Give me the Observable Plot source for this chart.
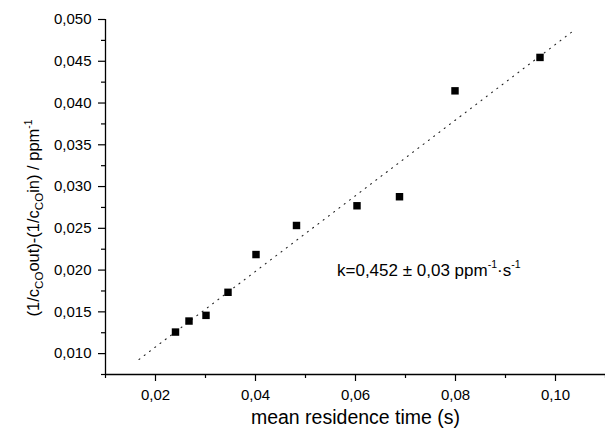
<!DOCTYPE html>
<html>
<head>
<meta charset="utf-8">
<script src="https://cdn.jsdelivr.net/npm/d3@7"></script>
<script src="https://cdn.jsdelivr.net/npm/@observablehq/plot@0.6"></script>
<style>
  html, body { margin: 0; padding: 0; background: #fff; }
  svg { display: block; }
</style>
</head>
<body>
<div id="chart"></div>
<script>
// ---- data ----
const residenceTime = [0.0240, 0.0267, 0.0301, 0.0345, 0.0401, 0.0482, 0.0603, 0.0688, 0.0799, 0.0969];
const inverseDiff   = [0.01258, 0.01390, 0.01458, 0.01734, 0.02186, 0.02534, 0.02770, 0.02878, 0.04146, 0.04546];
const fitX = [0.0167, 0.1037];
const fitY = [0.0093, 0.0487];
const xTicks = [0.02, 0.04, 0.06, 0.08, 0.10];
const xMinor = [0.01, 0.03, 0.05, 0.07, 0.09, 0.11];
const yTicks = [0.010, 0.015, 0.020, 0.025, 0.030, 0.035, 0.040, 0.045, 0.050];
const yMinor = [0.0075, 0.0125, 0.0175, 0.0225, 0.0275, 0.0325, 0.0375, 0.0425, 0.0475];
const xTitle = "mean residence time (s)";
const yTitleParts = [["(1/c"], ["CO", "sub"], ["out)-(1/c"], ["CO", "sub"], ["in) / ppm"], ["-1", "sup"]];
const annotationParts = [["k=0,452 ± 0,03 ppm"], ["-1", "sup"], ["·s"], ["-1", "sup"]];
const annotationPos = {x: 0.0563, y: 0.0200};

const points = residenceTime.map((t, i) => ({t, v: inverseDiff[i]}));
const fit = fitX.map((t, i) => ({t, v: fitY[i]}));
const comma = s => s.replace(".", ",");
const FONT = "'Liberation Sans', Arial, Helvetica, sans-serif";

const chart = Plot.plot({
  width: 605,
  height: 433,
  marginLeft: 105,
  marginRight: 0,
  marginTop: 19,
  marginBottom: 59,
  x: {domain: [0.01, 0.11]},
  y: {domain: [0.0075, 0.050]},
  style: {fontFamily: FONT, fontSize: "15px", color: "#000", background: "#fff"},
  marks: [
    Plot.axisX({ticks: xTicks, tickSize: 7, tickPadding: 8, tickFormat: d => comma(d3.format(".2f")(d)), label: null, strokeWidth: 1.2, fontSize: 15}),
    Plot.axisX({ticks: xMinor, tickSize: 4, text: null, label: null, strokeWidth: 1.2}),
    Plot.axisY({ticks: yTicks, tickSize: 7, tickPadding: 7, tickFormat: d => comma(d3.format(".3f")(d)), label: null, strokeWidth: 1.2, fontSize: 15}),
    Plot.axisY({ticks: yMinor, tickSize: 4, text: null, label: null, strokeWidth: 1.2}),
    Plot.ruleX([0.01], {y1: 0.0075, y2: 0.050, strokeWidth: 1.3}),
    Plot.ruleY([0.0075], {x1: 0.01, x2: 0.11, strokeWidth: 1.3}),
    Plot.line(fit, {x: "t", y: "v", stroke: "#222", strokeWidth: 1.1, strokeDasharray: "1,5.6"}),
    Plot.dot(points, {x: "t", y: "v", symbol: "square", r: 4.2, fill: "#000", stroke: "none"}),
    Plot.text([annotationPos], {x: "x", y: "y", text: () => "k", textAnchor: "start", fontSize: 17, fill: "#000", className: "anno"}),
    Plot.text([xTitle], {frameAnchor: "bottom", dy: 49, text: d => d, fontSize: 19.5, fill: "#000", className: "xtitle"})
  ]
});

function richText(textEl, parts, fs) {
  const t = d3.select(textEl);
  t.text(null);
  let shift = 0;
  for (const [s, kind] of parts) {
    let target = 0, size = fs;
    if (kind === "sub") { target = 0.22 * fs; size = 0.7 * fs; }
    if (kind === "sup") { target = -0.45 * fs; size = 0.62 * fs; }
    t.append("tspan")
      .attr("dy", (target - shift).toFixed(2))
      .attr("font-size", size.toFixed(2))
      .text(s);
    shift = target;
  }
}
d3.select(chart).selectAll(".anno text").each(function() { richText(this, annotationParts, 17); });

// rotated y-axis title (with sub/superscripts)
const yTitle = d3.select(chart).append("text")
  .attr("transform", "translate(39,218) rotate(-90)")
  .attr("text-anchor", "middle")
  .attr("font-family", FONT)
  .attr("font-size", 16.5)
  .attr("fill", "#000");
richText(yTitle.node(), yTitleParts, 16.5);

document.getElementById("chart").appendChild(chart);
</script>
</body>
</html>
